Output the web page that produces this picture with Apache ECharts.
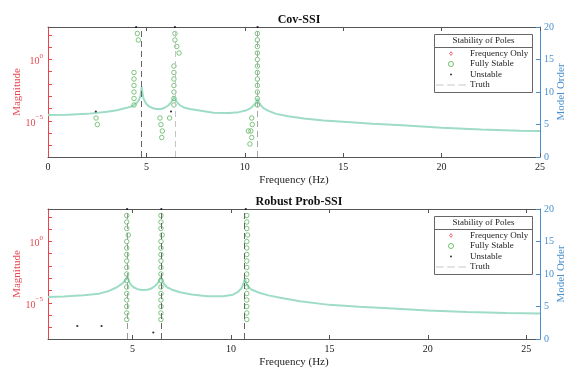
<!DOCTYPE html>
<html>
<head>
<meta charset="utf-8">
<script src="https://cdn.jsdelivr.net/npm/echarts@6/dist/echarts.min.js"></script>
<style>
  html, body { margin: 0; padding: 0; background: #fff; }
  #chart { width: 581px; height: 380px; }
</style>
</head>
<body>
<div id="chart"></div>
<script>
// ---- data (log10 magnitude of the true FRF) ----
const covFreq = [0, 1, 2, 3, 3.5, 4, 4.3, 4.5, 4.62, 4.7, 4.76, 4.8, 4.86, 4.95, 5.1, 5.3, 5.5, 5.75, 5.95, 6.12,
  6.25, 6.34, 6.4, 6.45, 6.5, 6.58, 6.7, 6.9, 7.2, 7.7, 8.4, 9.2, 9.7, 10.05, 10.3, 10.47, 10.58, 10.65, 10.7, 10.8,
  10.95, 11.2, 11.6, 12.2, 13, 14, 15, 16.5, 18, 20, 22, 24, 25]
const covLogMag = [-4.52, -4.49, -4.42, -4.25, -4.13, -3.93, -3.78, -3.55, -3.3, -2.95, -2.2, -2.75, -3.2, -3.5, -3.78, -3.95, -4.03, -4.02, -3.9, -3.72,
  -3.5, -3.28, -3.08, -2.95, -3.2, -3.5, -3.72, -3.9, -4.03, -4.15, -4.32, -4.35, -4.28, -4.15, -3.95, -3.7, -3.45, -3.16, -3.4, -3.7,
  -3.95, -4.18, -4.42, -4.62, -4.8, -4.95, -5.06, -5.22, -5.35, -5.55, -5.68, -5.78, -5.81]

const robFreq = [0.7, 1.5, 2.5, 3.3, 3.8, 4.2, 4.45, 4.6, 4.68, 4.74, 4.8, 4.9, 5.05, 5.25, 5.5, 5.75, 5.98, 6.15, 6.28, 6.37,
  6.44, 6.5, 6.6, 6.75, 7.0, 7.4, 8.0, 8.8, 9.6, 10.1, 10.35, 10.52, 10.62, 10.7, 10.77, 10.87, 11.05, 11.4, 11.9, 12.5,
  13.5, 15, 16.5, 18, 20, 22, 24, 25.7]
const robLogMag = [-4.51, -4.47, -4.36, -4.24, -4.02, -3.72, -3.45, -3.22, -3.05, -2.8, -3.2, -3.5, -3.72, -3.88, -3.95, -3.93, -3.8, -3.6, -3.38, -3.12,
  -2.89, -3.15, -3.48, -3.72, -3.92, -4.12, -4.3, -4.45, -4.45, -4.32, -4.1, -3.82, -3.5, -3.05, -3.35, -3.68, -3.92, -4.15, -4.38, -4.58,
  -4.85, -5.15, -5.3, -5.42, -5.6, -5.72, -5.8, -5.86]

// poles: frequency (Hz) / model order
const covStableFreq = [2.44, 2.51, 4.37, 4.37, 4.37, 4.37, 4.37, 4.37, 4.54, 4.59, 5.69, 5.74, 5.81, 5.78, 6.18,
  6.45, 6.45, 6.54, 6.66, 6.40, 6.40, 6.40, 6.40, 6.40, 6.40, 6.40,
  10.64, 10.64, 10.64, 10.64, 10.64, 10.64, 10.64, 10.64, 10.64, 10.64, 10.64, 10.64,
  10.35, 10.38, 10.18, 10.31, 10.35, 10.26]
const covStableOrder = [6, 5, 13, 12, 11, 10, 9, 8, 19, 18, 6, 5, 4, 3, 6,
  19, 18, 17, 16, 14, 13, 12, 11, 10, 9, 8,
  19, 18, 17, 16, 15, 14, 13, 12, 11, 10, 9, 8,
  6, 5, 4, 4, 3, 2]
const covUnstableFreq = [2.43, 6.25, 4.48, 6.45, 10.65]
const covUnstableOrder = [7, 7, 20, 20, 20]

const robStableFreq = [
  4.70, 4.70, 4.70, 4.78, 4.70, 4.70, 4.70, 4.70, 4.70, 4.70, 4.70, 4.70, 4.70, 4.70, 4.70, 4.70, 4.70,
  6.44, 6.44, 6.44, 6.50, 6.44, 6.44, 6.44, 6.44, 6.44, 6.44, 6.44, 6.44, 6.44, 6.44, 6.44, 6.44, 6.44,
  10.80, 10.80, 10.80, 10.84, 10.80, 10.80, 10.80, 10.80, 10.80, 10.80, 10.80, 10.80, 10.80, 10.80, 10.80, 10.80, 10.80]
const robStableOrder = [
  19, 18, 17, 16, 15, 14, 13, 12, 11, 10, 9, 8, 7, 6, 5, 4, 3,
  19, 18, 17, 16, 15, 14, 13, 12, 11, 10, 9, 8, 7, 6, 5, 4, 3,
  19, 18, 17, 16, 15, 14, 13, 12, 11, 10, 9, 8, 7, 6, 5, 4, 3]
const robUnstableFreq = [2.19, 3.42, 6.05, 4.72, 6.46, 10.75]
const robUnstableOrder = [2, 2, 1, 20, 20, 20]

const covTruth = [4.76, 6.45, 10.65]
const robTruth = [4.74, 6.46, 10.67]

const magTicks = [-7, -6, -5, -4, -3, -2, -1, 0, 1, 2]
const magLabels = [-5, 0]
const freqTicks = [5, 10, 15, 20, 25]

// ---- styling ----
const FONT = 'Liberation Serif'
const RED = '#e8464e'
const BLUE = '#4a8fcb'
const GREEN = '#4caf50'
const TEAL = '#9fdcc6'
const TRUTH_GRAY = '#c8c8c8'
const AXIS_GRAY = '#555'

const zip = (a, b) => a.map((v, i) => [v, b[i]])

const chart = echarts.init(document.getElementById('chart'), null, { renderer: 'canvas' })

const magFormatter = v => v === 0 ? '{b|10}{s|0}' : '{b|10}{s|\u22125}'

function buildAxes(g, xmin, xmax) {
  const xBottom = {
    gridIndex: g, type: 'value', min: xmin, max: xmax, position: 'bottom',
    name: 'Frequency (Hz)', nameLocation: 'middle', nameGap: 18, nameMoveOverlap: false,
    nameTextStyle: { fontFamily: FONT, fontSize: 11, color: '#222' },
    axisLine: { onZero: false, lineStyle: { color: AXIS_GRAY, width: 1 } },
    axisTick: { inside: true, length: 4, lineStyle: { color: AXIS_GRAY }, customValues: freqTicks },
    axisLabel: { fontFamily: FONT, fontSize: 10, color: '#222', margin: 5,
      customValues: xmin === 0 ? [0].concat(freqTicks) : freqTicks },
    splitLine: { show: false }
  }
  const xTop = {
    gridIndex: g, type: 'value', min: xmin, max: xmax, position: 'top',
    axisLine: { onZero: false, lineStyle: { color: AXIS_GRAY, width: 1 } },
    axisTick: { inside: true, length: 4, lineStyle: { color: AXIS_GRAY }, customValues: freqTicks },
    axisLabel: { show: false },
    splitLine: { show: false }
  }
  const yLeft = {
    gridIndex: g, type: 'value', min: -7.92, max: 2.63, position: 'left',
    name: 'Magnitude', nameLocation: 'middle', nameGap: 25, nameMoveOverlap: false,
    nameTextStyle: { fontFamily: FONT, fontSize: 11, color: RED },
    axisLine: { show: true, onZero: false, lineStyle: { color: RED, width: 1 } },
    axisTick: { inside: true, length: 4, lineStyle: { color: RED }, customValues: magTicks },
    axisLabel: {
      customValues: magLabels, formatter: magFormatter, margin: 5,
      rich: {
        b: { fontFamily: FONT, fontSize: 10, color: RED, verticalAlign: 'bottom', lineHeight: 14 },
        s: { fontFamily: FONT, fontSize: 7, color: RED, verticalAlign: 'top', lineHeight: 14 }
      }
    },
    splitLine: { show: false }
  }
  const yRight = {
    gridIndex: g, type: 'value', min: 0, max: 20, interval: 5, position: 'right',
    name: 'Model Order', nameLocation: 'middle', nameGap: 16, nameMoveOverlap: false,
    nameTextStyle: { fontFamily: FONT, fontSize: 11, color: BLUE },
    axisLine: { show: true, onZero: false, lineStyle: { color: BLUE, width: 1 } },
    axisTick: { inside: true, length: 4, lineStyle: { color: BLUE } },
    axisLabel: { fontFamily: FONT, fontSize: 10, color: BLUE, margin: 4 },
    splitLine: { show: false }
  }
  return { xAxes: [xBottom, xTop], yAxes: [yLeft, yRight] }
}

const a0 = buildAxes(0, 0, 25)
const a1 = buildAxes(1, 0.7, 25.7)

function buildSeries(g, curve, truth, truthColors, stable, unstable) {
  const xi = g * 2
  const yl = g * 2, yr = g * 2 + 1
  return [
    {
      name: 'curve', type: 'line', xAxisIndex: xi, yAxisIndex: yl, data: curve,
      showSymbol: false, symbol: 'none', z: 2, silent: true,
      lineStyle: { color: TEAL, width: 2 }
    },
    {
      name: 'Truth', type: 'line', xAxisIndex: xi, yAxisIndex: yl, data: [], symbol: 'none', z: 3,
      itemStyle: { color: TRUTH_GRAY },
      lineStyle: { color: TRUTH_GRAY, width: 1, type: [6, 4] },
      markLine: {
        silent: true, symbol: ['none', 'none'], label: { show: false },
        lineStyle: { type: [6, 4], width: 1 },
        data: truth.map((f, i) => ({ xAxis: f, lineStyle: { color: truthColors[i], type: [6, 4], width: 1 } }))
      }
    },
    {
      name: 'Frequency Only', type: 'scatter', xAxisIndex: xi, yAxisIndex: yr, data: [],
      symbol: 'diamond', symbolSize: 5, symbolKeepAspect: true, z: 4,
      itemStyle: { color: 'rgba(0,0,0,0)', borderColor: RED, borderWidth: 1 }
    },
    {
      name: 'Fully Stable', type: 'scatter', xAxisIndex: xi, yAxisIndex: yr, data: stable,
      symbol: 'circle', symbolSize: 4.5, symbolKeepAspect: true, z: 4,
      itemStyle: { color: 'rgba(0,0,0,0)', borderColor: GREEN, borderWidth: 0.9 }
    },
    {
      name: 'Unstable', type: 'scatter', xAxisIndex: xi, yAxisIndex: yr, data: unstable,
      symbol: 'circle', symbolSize: 2.2, symbolKeepAspect: true, z: 5,
      itemStyle: { color: '#000' }
    }
  ]
}

// legend icons: empty moves pad the symbol's box so keepAspect doesn't stretch it
const DASH_ICON = 'path://M0,0h7v1h-7z M10,0h7v1h-7z M20,0h7v1h-7z'
const DOT_ICON = 'path://M0,0L0,0M5,5L5,5M2.5,1.5L3.2,1.8L3.5,2.5L3.2,3.2L2.5,3.5L1.8,3.2L1.5,2.5L1.8,1.8Z'
const DIAMOND_ICON = 'path://M0,0L0,0M5,5L5,5M2.5,0.6L3.9,2.5L2.5,4.4L1.1,2.5Z'

const legendData = [
  { name: 'Frequency Only', icon: DIAMOND_ICON, itemStyle: { color: 'rgba(0,0,0,0)', borderColor: RED, borderWidth: 1 } },
  { name: 'Fully Stable', icon: 'circle', itemStyle: { color: 'rgba(0,0,0,0)', borderColor: GREEN, borderWidth: 1 } },
  { name: 'Unstable', icon: DOT_ICON, itemStyle: { color: '#000', borderWidth: 0 } },
  { name: 'Truth', icon: DASH_ICON, itemStyle: { color: TRUTH_GRAY, borderWidth: 0 } }
]
const legendBase = {
  data: legendData, orient: 'vertical', left: 436, itemWidth: 30, itemHeight: 5, itemGap: 1.5,
  selectedMode: false, padding: 0, symbolKeepAspect: true,
  textStyle: { fontFamily: FONT, fontSize: 9, color: '#222', padding: [0, 0, 0, -1] }
}

function legendBox(top) {
  return [
    { type: 'rect', shape: { x: 434.5, y: top + 0.5, width: 98, height: 58 },
      style: { fill: '#fff', stroke: '#666', lineWidth: 1 }, z: 90 },
    { type: 'line', shape: { x1: 434.5, y1: top + 13.5, x2: 532.5, y2: top + 13.5 },
      style: { stroke: '#666', lineWidth: 1 }, z: 91 },
    { type: 'text', x: 483.5, y: top + 7, z: 91,
      style: { text: 'Stability of Poles', font: '9px "Liberation Serif"', fill: '#222',
        textAlign: 'center', textVerticalAlign: 'middle' } }
  ]
}

const option = {
  animation: false,
  backgroundColor: '#fff',
  title: [
    { text: 'Cov-SSI', left: 294, top: 9, textAlign: 'center',
      textStyle: { fontFamily: FONT, fontSize: 12, fontWeight: 'bold', color: '#111' } },
    { text: 'Robust Prob-SSI', left: 294, top: 191, textAlign: 'center',
      textStyle: { fontFamily: FONT, fontSize: 12, fontWeight: 'bold', color: '#111' } }
  ],
  grid: [
    { left: 48, top: 27, width: 492, height: 130 },
    { left: 48, top: 209, width: 492, height: 130 }
  ],
  legend: [
    Object.assign({}, legendBase, { top: 49, z: 100 }),
    Object.assign({}, legendBase, { top: 231, z: 100 })
  ],
  xAxis: a0.xAxes.concat(a1.xAxes),
  yAxis: a0.yAxes.concat(a1.yAxes),
  graphic: { elements: legendBox(34).concat(legendBox(216)) },
  series: buildSeries(0, zip(covFreq, covLogMag), covTruth, ['#666', '#c4c4c4', '#a8a8a8'],
      zip(covStableFreq, covStableOrder), zip(covUnstableFreq, covUnstableOrder))
    .concat(buildSeries(1, zip(robFreq, robLogMag), robTruth, ['#9a9a9a', '#666', '#666'],
      zip(robStableFreq, robStableOrder), zip(robUnstableFreq, robUnstableOrder)))
}

chart.setOption(option)
</script>
</body>
</html>
